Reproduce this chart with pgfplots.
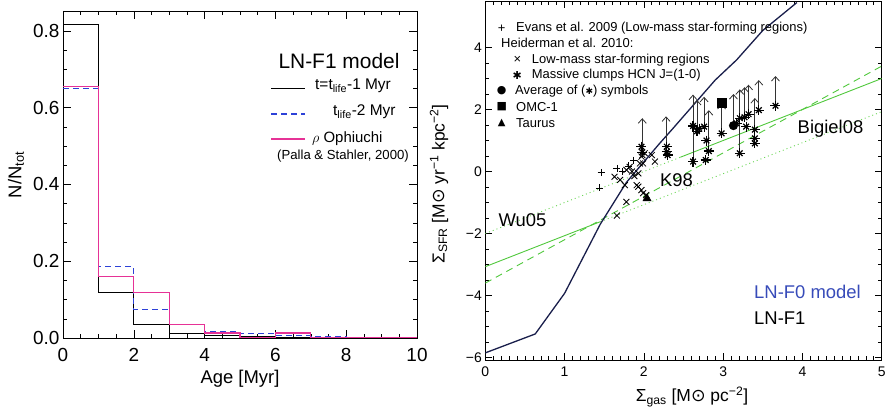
\documentclass[border=0pt]{standalone}
\usepackage{pgfplots}
\pgfplotsset{compat=1.18}
\usepackage{fontspec}
\setmainfont{Liberation Sans}
\newfontfamily\dejavu{DejaVu Sans}
\usetikzlibrary{arrows.meta}
\definecolor{navy}{RGB}{25,30,75}
\definecolor{lgreen}{RGB}{80,200,60}
\definecolor{dgreen}{RGB}{110,215,90}
\definecolor{pinkline}{RGB}{230,50,150}
\definecolor{bluedash}{RGB}{45,65,215}
\definecolor{lnblue}{RGB}{55,75,185}
\newcommand{\fs}[1]{\fontsize{#1}{#1}\selectfont}
\newcommand{\sun}{{\dejavu ⊙}}

\begin{document}
\begin{tikzpicture}
\useasboundingbox (0,0) rectangle (888bp,415bp);

% ---------------- left panel: age histogram
\begin{axis}[
  at={(63bp,77bp)}, anchor=south west, scale only axis,
  width=354bp, height=327bp,
  xmin=0, xmax=10, ymin=0, ymax=0.852,
  xtick={0,2,...,10}, xticklabels={0,2,4,6,8,10},
  ytick={0,0.2,0.4,0.6,0.8}, yticklabels={0.0,0.2,0.4,0.6,0.8},
  minor x tick num=3, minor y tick num=3,
  major tick length=8bp, minor tick length=4bp,
  tick align=inside,
  tick label style={font=\fs{19}},
  xticklabel style={yshift=-7bp},
  axis line style={line width=0.8bp},
  every tick/.style={black, line width=0.6bp},
]
% t = t_life - 1 Myr
\addplot[const plot, black, line width=0.8bp] coordinates {
(0,0) (0,0.816) (1,0.119) (2,0.035) (3,0.013) (4,0.006) (5,0.004) (6,0.002) (7,0.001) (8,0) (9,0) (10,0)};
% t_life - 2 Myr
\addplot[const plot, bluedash, line width=1.1bp, dash pattern=on 6bp off 4bp] coordinates {
(0,0.649) (1,0.186) (2,0.074) (3,0.036) (4,0.017) (5,0.011) (6,0.006) (7,0.003) (8,0.002) (9,0.001) (10,0.001)};
% rho Ophiuchi
\addplot[const plot, pinkline, line width=1.1bp] coordinates {
(0,0.656) (1,0.160) (2,0.119) (3,0.035) (4,0.013) (5,0.0) (6,0.013) (7,0.0) (8,0.0) (9,0.0) (10,0.0)};
\end{axis}

% ---------------- right panel: SFR vs gas
\begin{axis}[
  at={(485.3bp,55bp)}, anchor=south west, scale only axis,
  width=396.4bp, height=359bp,
  xmin=0, xmax=5, ymin=-6.08, ymax=5.5,
  xtick={0,...,5}, xticklabels={0,1,2,3,4,5},
  ytick={-6,-4,...,4}, yticklabels={−6,−4,−2,0,2,4},
  minor x tick num=9, minor y tick num=3,
  major tick length=7bp, minor tick length=4bp,
  tick align=inside,
  tick label style={font=\fs{14}},
  xticklabel style={yshift=-3bp},
  axis line style={line width=0.8bp},
  every tick/.style={black, line width=0.6bp},
]
% green relations
\addplot[lgreen, line width=0.9bp, dash pattern=on 7bp off 5bp] coordinates {(0,-3.6) (5,3.4)};
\addplot[lgreen, line width=0.9bp] coordinates {(0,-3.07) (1.45,-1.62)};
\addplot[dgreen, line width=0.9bp, dash pattern=on 1bp off 3bp] coordinates {(1.45,-1.62) (5,1.93)};
\addplot[dgreen, line width=0.9bp, dash pattern=on 1bp off 3bp] coordinates {(0,-2.0) (2.46,0.46)};
\addplot[lgreen, line width=0.9bp] coordinates {(2.46,0.46) (5,3.0)};
% model curve
\addplot[navy, line width=1.3bp] coordinates {
(0,-5.85) (0.63,-5.24) (1.0,-3.93) (1.45,-1.70) (1.78,-0.35) (2.20,0.91) (2.35,1.34)
(2.90,2.95) (3.17,3.60) (3.50,4.55) (3.93,5.45)};
% lower-limit arrows of massive clumps
\addplot[quiver={u=0,v=\thisrow{dy}}, -{Straight Barb[length=4.5bp,width=8bp]},
  black!80, line width=0.8bp] table {
x y dy
1.98 0.75 0.97
2.28 0.80 0.98
2.62 0.32 2.16
2.67 1.28 1.03
2.76 1.45 0.96
2.82 0.66 1.32
2.98 1.23 0.95
3.13 1.55 0.95
3.21 0.59 2.06
3.27 1.75 0.97
3.32 1.88 0.92
3.40 0.91 1.46
3.45 1.98 0.97
3.66 2.12 0.96
};
% Evans et al. 2009
\addplot[only marks, mark=+, mark size=3.5bp, black, line width=0.8bp] coordinates {
(1.46,-0.03) (1.44,-0.53) (1.66,0.10) (1.87,0.37) (1.73,0.0) (1.80,0.18)};
% Heiderman low-mass regions
\addplot[only marks, mark=x, mark size=4.2bp, black, line width=0.85bp] coordinates {
(1.66,-1.42) (1.78,-0.98) (1.93,-0.49) (1.99,-0.70) (2.03,-0.76) (1.97,-0.60)
(1.93,-0.06) (1.99,0.26) (1.97,0.48) (2.01,0.59) (2.10,0.53) (2.14,0.32)
(1.82,0.15) (1.78,0.05) (1.63,-0.17) (1.70,-0.27) (1.76,-0.44) (1.91,-0.44)
(1.85,0.0) (1.88,-0.15) (1.95,0.26) (1.98,0.53)};
% massive clumps (asterisks)
\pgfplotstableread{
x y
1.97 0.80
1.98 0.62
2.29 0.80
2.29 0.64
2.30 0.53
2.62 0.32
2.62 1.47
2.67 1.30
2.70 1.38
2.76 1.45
2.78 0.37
2.79 1.00
2.82 0.66
2.98 1.23
3.17 1.55
3.21 1.72
3.21 0.59
3.27 1.75
3.29 1.45
3.32 1.85
3.40 1.35
3.40 1.07
3.40 0.91
3.45 1.98
3.66 2.12
}\clumps
\addplot[only marks, mark=+, mark size=5bp, black, line width=1.2bp] table {\clumps};
\addplot[only marks, mark=x, mark size=4bp, black, line width=1.2bp] table {\clumps};
% average, OMC-1, Taurus
\addplot[only marks, mark=*, mark size=4.3bp, black] coordinates {(3.13,1.48)};
\addplot[only marks, mark=square*, mark size=4.3bp, black] coordinates {(2.98,2.22)};
\addplot[only marks, mark=triangle*, mark size=4.8bp, black] coordinates {(2.04,-0.87)};
\end{axis}

\begin{scope}[x=1bp, y=1bp]
% left panel labels
\node[font=\fs{18.5}] at (240,36) {Age [Myr]};
\node[font=\fs{18.5}, rotate=90] at (16,240) {N/N\textsubscript{tot}};
\node[font=\fs{21}] at (339,354) {LN-F1 model};
\draw[black, line width=0.8bp] (271,327) -- (305,327);
\node[font=\fs{15.5}, anchor=west, inner sep=0] at (315,329) {t=t\textsubscript{life}-1 Myr};
\draw[bluedash, line width=1.1bp, dash pattern=on 6bp off 4bp] (271,301) -- (305,301);
\node[font=\fs{15.5}, anchor=west, inner sep=0] at (333,303) {t\textsubscript{life}-2 Myr};
\draw[pinkline, line width=1.1bp] (271,276) -- (305,276);
\node[font=\fs{15}, anchor=west, inner sep=0] at (312,276) {$\rho$ Ophiuchi};
\node[font=\fs{13.2}, anchor=west, inner sep=0] at (277,259) {(Palla \& Stahler, 2000)};

% right panel labels
\node[font=\fs{17.5}] at (692,18) {Σ\textsubscript{gas} [M\sun{} pc\textsuperscript{−2}]};
\node[font=\fs{17.5}, rotate=90] at (439,231) {Σ\textsubscript{SFR} [M\sun{} yr\textsuperscript{−1} kpc\textsuperscript{−2}]};
\node[font=\fs{18.5}] at (522.5,195) {Wu05};
\node[font=\fs{18.5}] at (676.5,235) {K98};
\node[font=\fs{18.5}] at (830.5,286) {Bigiel08};
\node[font=\fs{18.5}, anchor=west, inner sep=0, text=lnblue] at (754,123) {LN-F0 model};
\node[font=\fs{18.5}, anchor=west, inner sep=0] at (754,97) {LN-F1};

% right panel key
\begin{scope}[font=\fs{13}]
\node[inner sep=0] at (501.7,386.7) {+};
\node[anchor=west, inner sep=0] at (516,386.7) {Evans et al. 2009 (Low-mass star-forming regions)};
\node[anchor=west, inner sep=0] at (501,371.7) {Heiderman et al. 2010:};
\node[inner sep=0] at (517.3,355) {×};
\node[anchor=west, inner sep=0] at (531.7,355) {Low-mass star-forming regions};
\node[inner sep=0] at (517.3,339.7) {\dejavu\fs{11}✱};
\node[anchor=west, inner sep=0] at (531.7,339.7) {Massive clumps HCN J=(1-0)};
\node[inner sep=0] at (501.7,324.3) {\dejavu\fs{11}●};
\node[anchor=west, inner sep=0] at (515,324.3) {Average of ({\dejavu\fs{9}✱}) symbols};
\node[inner sep=0] at (501.7,308.3) {\dejavu\fs{11}■};
\node[anchor=west, inner sep=0] at (516,308.3) {OMC-1};
\node[inner sep=0] at (501.7,292.3) {\dejavu\fs{10}▲};
\node[anchor=west, inner sep=0] at (516,292.3) {Taurus};
\end{scope}
\end{scope}
\end{tikzpicture}
\end{document}
